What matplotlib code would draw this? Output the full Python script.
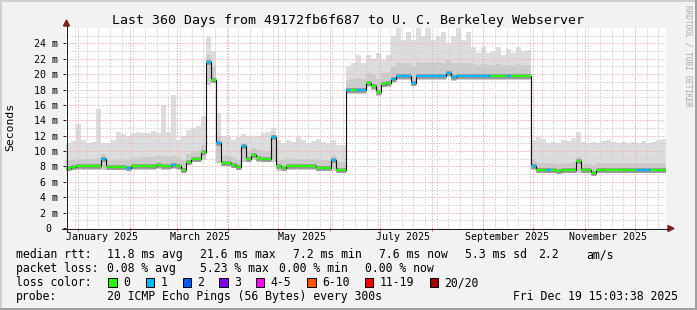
import numpy as np
import matplotlib
matplotlib.use("Agg")
import matplotlib.pyplot as plt
import matplotlib.dates as mdates
from matplotlib.patches import Rectangle, Polygon

W, H = 697, 310
MONO = "DejaVu Sans Mono"

# one sample every 3 days across the 360 day window
t_start = np.datetime64("2024-12-24T15:03:38")
t_end = np.datetime64("2025-12-19T15:03:38")

# median rtt (ms)
median_ms = [
    7.8, 7.9, 8.0, 8.0, 8.0, 8.0, 8.0, 9.0, 7.9, 7.9,
    7.9, 7.9, 7.8, 8.0, 8.0, 8.1, 8.1, 8.1, 8.2, 8.1,
    8.1, 8.2, 8.1, 7.6, 8.6, 9.0, 9.0, 9.9, 21.6, 19.3,
    11.0, 8.5, 8.5, 8.2, 7.9, 10.6, 9.0, 9.5, 9.1, 9.0,
    9.0, 11.8, 8.0, 7.8, 8.1, 8.0, 8.0, 8.0, 8.0, 8.0,
    7.8, 7.8, 7.8, 8.9, 7.6, 7.6, 17.9, 17.9, 17.9, 17.9,
    18.8, 18.4, 17.7, 18.7, 18.8, 19.4, 19.7, 19.7, 19.7, 18.8,
    19.8, 19.8, 19.8, 19.8, 19.8, 19.8, 20.2, 19.6, 19.7, 19.7,
    19.7, 19.7, 19.7, 19.7, 19.7, 19.7, 19.7, 19.7, 19.7, 19.7,
    19.7, 19.7, 19.7, 8.0, 7.6, 7.6, 7.6, 7.6, 7.4, 7.6,
    7.6, 7.6, 8.7, 7.6, 7.6, 7.2, 7.5, 7.5, 7.5, 7.5,
    7.5, 7.5, 7.5, 7.5, 7.5, 7.5, 7.5, 7.5, 7.5, 7.5,
]

# lost pings per sample (index into the loss colour table)
loss = [
    0, 0, 0, 0, 0, 0, 0, 1, 0, 0,
    0, 0, 1, 0, 0, 0, 0, 0, 0, 0,
    0, 1, 0, 0, 0, 0, 0, 0, 1, 0,
    1, 0, 0, 0, 0, 1, 0, 0, 0, 0,
    0, 1, 0, 0, 0, 0, 0, 0, 0, 0,
    0, 0, 0, 1, 0, 0, 1, 0, 1, 1,
    0, 0, 0, 0, 0, 1, 1, 1, 1, 1,
    1, 1, 1, 1, 1, 1, 1, 1, 1, 1,
    1, 1, 1, 1, 1, 0, 0, 0, 1, 0,
    0, 0, 0, 1, 0, 0, 1, 0, 0, 0,
    0, 0, 0, 0, 0, 0, 0, 0, 0, 0,
    0, 0, 0, 0, 1, 1, 1, 0, 0, 0,
]

# smoke: fastest ping, upper edge of the dense part, slowest ping (ms)
smoke_lo = [
    7.4, 7.5, 7.6, 7.6, 7.6, 7.6, 7.6, 7.6, 7.5, 7.5,
    7.5, 7.5, 7.4, 7.6, 7.6, 7.6, 7.6, 7.6, 7.7, 7.6,
    7.6, 7.7, 7.6, 7.2, 8.2, 8.6, 8.6, 8.8, 18.6, 18.8,
    8.4, 8.1, 8.1, 7.8, 7.5, 8.6, 8.6, 8.9, 8.6, 8.6,
    8.6, 8.6, 7.4, 7.4, 7.6, 7.6, 7.6, 7.6, 7.6, 7.6,
    7.4, 7.4, 7.4, 7.4, 7.2, 7.2, 17.4, 17.4, 17.4, 17.4,
    18.3, 18.0, 17.2, 18.3, 18.3, 18.9, 19.2, 19.2, 19.2, 18.4,
    19.3, 19.3, 19.3, 19.3, 19.3, 19.3, 19.6, 19.1, 19.2, 19.2,
    19.2, 19.2, 19.2, 19.2, 19.2, 19.2, 19.2, 19.2, 19.2, 19.2,
    19.2, 19.2, 19.2, 7.6, 7.2, 7.2, 7.2, 7.2, 7.0, 7.2,
    7.2, 7.2, 7.2, 7.2, 7.2, 6.8, 7.1, 7.1, 7.1, 7.1,
    7.1, 7.1, 7.1, 7.1, 7.1, 7.1, 7.1, 7.1, 7.1, 7.1,
]
smoke_mid = [
    8.8, 8.9, 9.0, 9.0, 9.0, 9.0, 9.1, 9.6, 8.9, 8.9,
    9.0, 9.0, 8.9, 9.1, 9.1, 9.2, 9.2, 9.2, 9.3, 9.3,
    9.2, 9.4, 9.2, 8.8, 9.6, 9.9, 10.0, 10.8, 22.5, 21.0,
    12.0, 9.5, 9.4, 9.2, 8.9, 10.8, 10.0, 10.4, 10.1, 10.0,
    10.0, 12.0, 9.0, 8.8, 9.1, 9.0, 9.0, 9.0, 9.0, 9.0,
    8.8, 8.8, 8.8, 9.5, 8.6, 8.6, 19.3, 19.4, 19.5, 19.4,
    20.2, 19.9, 19.4, 20.2, 20.3, 21.0, 21.5, 21.4, 21.5, 21.0,
    21.6, 21.5, 21.6, 21.5, 21.6, 21.5, 21.8, 21.4, 21.5, 21.4,
    21.5, 21.3, 21.2, 21.3, 21.2, 21.2, 21.3, 21.2, 21.2, 21.2,
    21.3, 21.2, 21.2, 9.0, 8.5, 8.5, 8.5, 8.5, 8.3, 8.5,
    8.5, 8.6, 9.2, 8.5, 8.5, 8.2, 8.4, 8.4, 8.4, 8.4,
    8.4, 8.4, 8.4, 8.4, 8.4, 8.4, 8.4, 8.4, 8.4, 8.4,
]
smoke_hi = [
    11.0, 11.3, 13.5, 11.5, 11.0, 11.2, 15.5, 11.0, 11.0, 11.5,
    12.5, 12.2, 12.0, 12.3, 12.5, 12.3, 12.4, 12.6, 12.3, 16.0,
    12.5, 17.3, 11.5, 12.0, 12.8, 13.0, 13.3, 14.5, 24.8, 23.0,
    15.0, 12.0, 11.8, 11.5, 11.8, 12.2, 12.0, 11.8, 12.0, 12.3,
    12.5, 13.0, 11.5, 11.0, 11.5, 11.2, 11.8, 11.5, 11.0, 11.3,
    11.6, 11.2, 11.0, 11.5, 10.8, 10.8, 21.0, 21.5, 22.5, 21.5,
    22.5, 22.0, 22.8, 21.8, 22.5, 25.0, 26.0, 24.5, 25.5, 24.5,
    26.0, 25.0, 26.0, 24.5, 25.0, 25.5, 24.0, 25.0, 26.0, 24.5,
    25.5, 23.5, 22.8, 23.5, 22.8, 23.0, 23.5, 22.5, 23.3, 22.8,
    23.5, 23.0, 23.2, 11.5, 11.8, 11.6, 11.0, 11.2, 11.0, 11.5,
    11.3, 11.7, 12.5, 11.2, 11.0, 11.2, 11.0, 11.3, 11.5, 11.2,
    11.0, 11.2, 11.0, 11.2, 11.0, 11.3, 11.0, 11.2, 11.5, 11.6,
]

tick_dates = ["2025-01-15", "2025-03-15", "2025-05-15",
              "2025-07-15", "2025-09-15", "2025-11-15"]
tick_names = ["January 2025", "March 2025", "May 2025",
              "July 2025", "September 2025", "November 2025"]
ytick_vals = [0, 2, 4, 6, 8, 10, 12, 14, 16, 18, 20, 22, 24]
ytick_names = ["0 "] + ["%d m" % v for v in ytick_vals[1:]]

loss_names = ["0", "1", "2", "3", "4-5", "6-10", "11-19", "20/20"]
loss_colors = ["#26ff00", "#00b8ff", "#0059ff", "#7e00ff",
               "#ff00ff", "#ff5500", "#ff0000", "#a10000"]


def px(x, y):
    # pixel position (top-left origin) -> figure fraction
    return x / W, 1 - y / H


fig = plt.figure(figsize=(W / 100, H / 100), dpi=100, facecolor="#f2f2f2")
ax = fig.add_axes([66 / W, 82 / H, 600 / W, 200 / H])
ax.set_facecolor("white")
for s in ax.spines.values():
    s.set_visible(False)

edges = mdates.date2num(t_start + np.arange(len(median_ms) + 1) * np.timedelta64(3, "D"))
ax.set_xlim(mdates.date2num(t_start), mdates.date2num(t_end))
ax.set_ylim(0, 26)

# smoke
ax.stairs(smoke_hi, edges, baseline=smoke_lo, fill=True, color="#dddddd", lw=0, zorder=1)
ax.stairs(smoke_mid, edges, baseline=smoke_lo, fill=True, color="#cbcbcb", lw=0, zorder=1.1)

# grid (drawn over the smoke like rrdtool does)
dots = (0, (1.4, 1.4))
minor_c, major_c = "#d0d0d0", "#f1b0b0"
for v in range(1, 26):
    ax.axhline(v, color=major_c if v % 2 == 0 else minor_c, lw=0.72, ls=dots, zorder=2)
weeks = np.arange(np.datetime64("2024-12-30"), t_end, np.timedelta64(7, "D"))
for d in mdates.date2num(weeks):
    ax.axvline(d, color=minor_c, lw=0.72, ls=dots, zorder=2)
months = np.arange(np.datetime64("2025-01"), np.datetime64("2025-12") + 1, np.timedelta64(1, "M"))
month_nums = mdates.date2num(months.astype("datetime64[D]"))
for d in month_nums:
    ax.axvline(d, color=major_c, lw=0.72, ls=dots, zorder=2.1)

# median line: dark band, black step line, loss coloured segments
ax.hlines(median_ms, edges[:-1], edges[1:], color="#9a9a9a", lw=3.6, zorder=3)
ax.stairs(median_ms, edges, baseline=None, color="#101010", lw=0.8, zorder=4)
ax.hlines(median_ms, edges[:-1], edges[1:], color=[loss_colors[l] for l in loss],
          lw=1.6, zorder=5)

# ticks
ax.set_xticks(mdates.date2num(np.array(tick_dates, dtype="datetime64[D]")))
ax.set_xticklabels(tick_names, fontsize=7.2, family=MONO)
ax.tick_params(axis="x", which="major", length=0, pad=3)
ax.set_xticks(month_nums, minor=True)
ax.tick_params(axis="x", which="minor", length=2.2, width=0.72, color="#de4f4f")
ax.set_yticks(ytick_vals)
ax.set_yticklabels(ytick_names, fontsize=7.2, family=MONO)
ax.tick_params(axis="y", length=2.2, width=0.72, color="#1f1f1f", pad=3.2)

# axes with arrows
axis_c, arrow_c = "#1f1f1f", "#801f1f"
fig.add_artist(plt.Line2D([62 / W, 669 / W], [px(0, 228.5)[1]] * 2, color=axis_c, lw=0.72))
fig.add_artist(plt.Line2D([66.5 / W] * 2, [px(0, 232)[1], px(0, 25)[1]], color=axis_c, lw=0.72))
fig.add_artist(Polygon([px(668, 225.5), px(668, 231.5), px(674, 228.5)], closed=True,
                       color=arrow_c, transform=fig.transFigure))
fig.add_artist(Polygon([px(63.5, 26), px(69.5, 26), px(66.5, 20)], closed=True,
                       color=arrow_c, transform=fig.transFigure))

# frame shading
for (x, y, w, h, c) in [(0, 0, W, 2, "#cfcfcf"), (0, 0, 2, H, "#cfcfcf"),
                        (0, H - 2, W, 2, "#9e9e9e"), (W - 2, 0, 2, H, "#9e9e9e")]:
    fig.add_artist(Rectangle(px(x, y + h), w / W, h / H, color=c, lw=0,
                             transform=fig.transFigure))

# texts
fig.text(*px(347.5, 24), "Last 360 Days from 49172fb6f687 to U. C. Berkeley Webserver",
         ha="center", va="baseline", fontsize=9.5, family=MONO)
fig.text(*px(10, 127), "Seconds", rotation=90, ha="center", va="center",
         fontsize=8.2, family=MONO)
fig.text(*px(688, 5), "RRDTOOL / TOBI OETIKER", rotation=270, ha="center", va="top",
         fontsize=5.6, family=MONO, color="#a8a8a8")

legend_rows = [
    (258.3, [(16, "median rtt:"), (107.3, "11.8 ms avg"), (200, "21.6 ms max"),
             (293.3, "7.2 ms min"), (379.3, "7.6 ms now"), (465, "5.3 ms sd"),
             (538.3, "2.2"), (586.5, "am/s")]),
    (272.2, [(16, "packet loss:"), (107.3, "0.08 % avg"), (200, "5.23 % max"),
             (278.7, "0.00 % min"), (365, "0.00 % now")]),
    (286.2, [(16, "loss color:")]),
    (299.8, [(16, "probe:"), (107.3, "20 ICMP Echo Pings (56 Bytes) every 300s"),
             (513.3, "Fri Dec 19 15:03:38 2025")]),
]
for yb, items in legend_rows:
    for x, s in items:
        fig.text(*px(x, yb), s, ha="left", va="baseline", fontsize=8.3, family=MONO)

box_x = [108.3, 145.7, 182.7, 219.3, 256, 307.3, 365, 430]
for bx, name, col in zip(box_x, loss_names, loss_colors):
    fig.add_artist(Rectangle(px(bx, 286.7), 8.4 / W, 8.4 / H, facecolor=col,
                             edgecolor="black", lw=0.72, transform=fig.transFigure))
    fig.text(*px(bx + 14.6, 286.2), name, ha="left", va="baseline", fontsize=8.3, family=MONO)

fig.savefig("out.png", dpi=100, facecolor=fig.get_facecolor())
